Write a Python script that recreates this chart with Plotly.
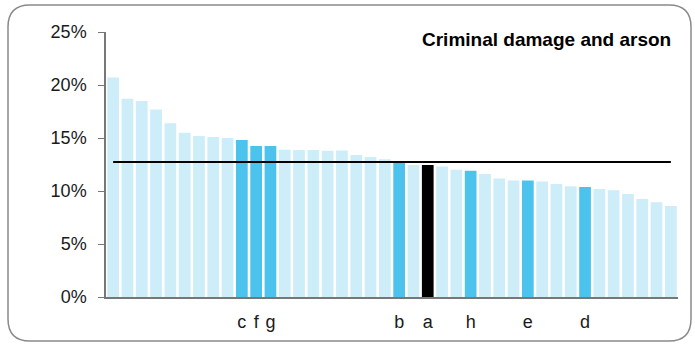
import plotly.graph_objects as go

# Share of offences, sorted descending
values = [20.7, 18.7, 18.5, 17.7, 16.4, 15.5, 15.2, 15.1, 15.0, 14.8,
          14.25, 14.25, 13.9, 13.87, 13.87, 13.8, 13.83, 13.4, 13.2, 13.0,
          12.77, 12.45, 12.45, 12.3, 12.0, 11.9, 11.6, 11.17, 10.98, 11.0,
          10.9, 10.66, 10.44, 10.38, 10.2, 10.06, 9.72, 9.25, 8.93, 8.58]
# highlighted bars: index -> label
highlight_idx = [9, 10, 11, 20, 22, 25, 29, 33]
highlight_lbl = ["c", "f", "g", "b", "a", "h", "e", "d"]
national_idx = 22
average = 12.74

light = "#cdedf9"
dark = "#4bc3ec"

colors = []
for i in range(len(values)):
    if i == national_idx:
        colors.append("black")
    elif i in highlight_idx:
        colors.append(dark)
    else:
        colors.append(light)

xs = list(range(len(values)))

fig = go.Figure()
fig.add_trace(go.Bar(x=xs, y=values, marker=dict(color=colors, line=dict(width=0)),
                     hoverinfo="skip"))
fig.add_trace(go.Scatter(x=[xs[0], xs[-1]], y=[average, average], mode="lines",
                         line=dict(color="black", width=2), hoverinfo="skip"))

# plot area in pixels
L, R, T, B = 106, 678, 32, 297
W, H = 695, 347


def px(X):
    return (X - L) / (R - L)


def py(Y):
    return (B - Y) / (B - T)


# rounded frame in pixel coords -> paper coords
x0, y0, x1, y1, r = 8, 5, 691, 341, 22
path = (f"M {px(x0 + r)},{py(y0)} L {px(x1 - r)},{py(y0)} "
        f"Q {px(x1)},{py(y0)} {px(x1)},{py(y0 + r)} "
        f"L {px(x1)},{py(y1 - r)} Q {px(x1)},{py(y1)} {px(x1 - r)},{py(y1)} "
        f"L {px(x0 + r)},{py(y1)} Q {px(x0)},{py(y1)} {px(x0)},{py(y1 - r)} "
        f"L {px(x0)},{py(y0 + r)} Q {px(x0)},{py(y0)} {px(x0 + r)},{py(y0)} Z")

fig.update_layout(
    width=W, height=H,
    margin=dict(l=L, r=W - R, t=T, b=H - B, autoexpand=False),
    paper_bgcolor="white", plot_bgcolor="white",
    showlegend=False, bargap=0.18,
    font=dict(family="Liberation Sans, Arial", size=18, color="#1a1a1a"),
    xaxis=dict(range=[-0.5, len(values) - 0.5], tickmode="array",
               tickvals=highlight_idx, ticktext=highlight_lbl,
               ticks="", ticklabelstandoff=8,
               showline=True, linecolor="#777", linewidth=1.5,
               showgrid=False, zeroline=False, fixedrange=True),
    yaxis=dict(range=[0, 25], tickvals=[0, 5, 10, 15, 20, 25],
               ticktext=["0%", "5%", "10%", "15%", "20%", "25%"],
               ticks="outside", ticklen=6, tickcolor="#777", ticklabelstandoff=8,
               showline=True, linecolor="#777", linewidth=1.5,
               showgrid=False, zeroline=False, fixedrange=True),
    shapes=[dict(type="path", path=path, xref="paper", yref="paper",
                 line=dict(color="#8a8a8a", width=1.5), layer="below")],
    annotations=[dict(text="<b>Criminal damage and arson</b>", x=px(673), y=py(39),
                      xref="paper", yref="paper", xanchor="right", yanchor="middle",
                      showarrow=False, font=dict(size=19, color="black"))],
)

fig.write_html("out.html", config={"displayModeBar": False},
               post_script="document.body.style.margin='0';")
